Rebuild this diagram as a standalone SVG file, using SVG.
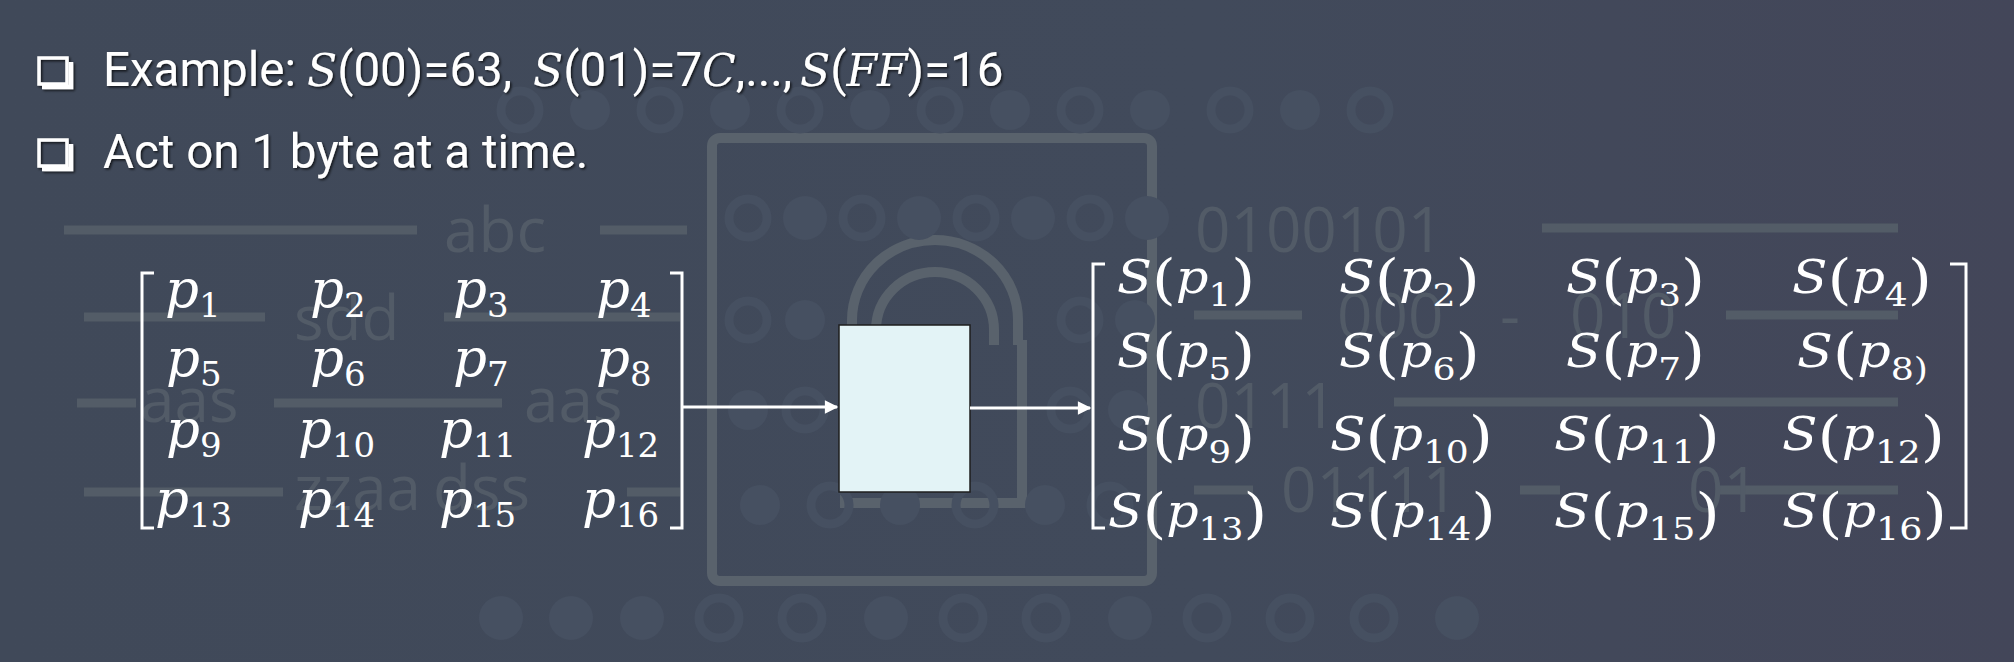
<svg xmlns="http://www.w3.org/2000/svg" width="2014" height="662" viewBox="0 0 2014 662">
<defs>
  <linearGradient id="bg" x1="0" y1="0" x2="1" y2="0">
    <stop offset="0" stop-color="#404959"/>
    <stop offset="0.6" stop-color="#414a5b"/>
    <stop offset="1" stop-color="#434659"/>
  </linearGradient>
  <filter id="sh" x="-5%" y="-20%" width="110%" height="140%">
    <feDropShadow dx="1.5" dy="1.5" stdDeviation="1" flood-color="#000" flood-opacity="0.7"/>
  </filter>
  <marker id="ah" viewBox="0 0 10 10" refX="9" refY="5" markerWidth="5" markerHeight="4.5" orient="auto" markerUnits="strokeWidth">
    <path d="M0,0 L10,5 L0,10 z" fill="#ffffff"/>
  </marker>
  <style>
    .bgbar { stroke: #535c67; stroke-width: 9; stroke-linecap: butt; }
    .bgtxt { font-family: "Open Sans", "DejaVu Sans", sans-serif; font-size: 62px; fill: #525b67; }
    .ring { fill: none; stroke: #465061; stroke-width: 9; }
    .dot { fill: #465061; }
    .lock { fill: none; stroke: #59626c; stroke-width: 10; }
    .t { font-family: Roboto, "Liberation Sans", sans-serif; font-size: 47.5px; fill: #ffffff; }
    .m { font-family: "DejaVu Serif", "Liberation Serif", serif; font-style: italic; font-size: 44px; }
    .mx { font-family: "DejaVu Serif", "Liberation Serif", serif; font-style: italic; font-size: 53px; fill: #ffffff; }
    .sx { font-family: "DejaVu Serif", "Liberation Serif", serif; font-style: italic; font-size: 46px; fill: #ffffff; }
    .par { font-style: normal; font-size: 55px; }
    .sub { font-style: normal; font-size: 34px; }
    .ssub { font-style: normal; font-size: 32px; }
    .br { fill: none; stroke: #ffffff; stroke-width: 3; }
    .conn { stroke: #ffffff; stroke-width: 3; fill: none; }
    .cb { fill: none; stroke: #ffffff; stroke-width: 3.5; }
    .cbs { fill: none; stroke: #ffffff; stroke-width: 4.5; }
  </style>
</defs>

<rect x="0" y="0" width="2014" height="662" fill="url(#bg)"/>

<!-- faint background decoration -->
<g id="background-decoration">
  <rect class="lock" x="712" y="138" width="440" height="443" rx="8"/>
  <path class="lock" d="M852,345 L852,320 A83,80 0 0 1 1018,320 L1018,345"/>
  <path class="lock" d="M876,345 L876,330 A59,58 0 0 1 994,330 L994,345"/>
  <path class="lock" d="M845,340 L845,503 L1022,503 L1022,340"/>
  <g>
    <circle class="ring" cx="748" cy="218" r="19"/>
    <circle class="dot" cx="805" cy="218" r="22"/>
    <circle class="ring" cx="862" cy="218" r="19"/>
    <circle class="dot" cx="919" cy="218" r="22"/>
    <circle class="ring" cx="976" cy="218" r="19"/>
    <circle class="dot" cx="1033" cy="218" r="22"/>
    <circle class="ring" cx="1090" cy="218" r="19"/>
    <circle class="dot" cx="1147" cy="218" r="22"/>
    <circle class="ring" cx="520" cy="110" r="19"/>
    <circle class="dot" cx="590" cy="110" r="20"/>
    <circle class="ring" cx="660" cy="110" r="19"/>
    <circle class="dot" cx="730" cy="110" r="20"/>
    <circle class="ring" cx="800" cy="110" r="19"/>
    <circle class="dot" cx="870" cy="110" r="20"/>
    <circle class="ring" cx="940" cy="110" r="19"/>
    <circle class="dot" cx="1010" cy="110" r="20"/>
    <circle class="ring" cx="1080" cy="110" r="19"/>
    <circle class="dot" cx="1150" cy="110" r="20"/>
    <circle class="ring" cx="1230" cy="110" r="19"/>
    <circle class="dot" cx="1300" cy="110" r="20"/>
    <circle class="ring" cx="1370" cy="110" r="19"/>
    <circle class="ring" cx="748" cy="320" r="19"/>
    <circle class="dot" cx="805" cy="320" r="20"/>
    <circle class="ring" cx="1080" cy="320" r="19"/>
    <circle class="dot" cx="1135" cy="320" r="20"/>
    <circle class="dot" cx="748" cy="410" r="20"/>
    <circle class="ring" cx="805" cy="410" r="19"/>
    <circle class="ring" cx="1070" cy="410" r="19"/>
    <circle class="dot" cx="1128" cy="410" r="20"/>
    <circle class="dot" cx="760" cy="505" r="20"/>
    <circle class="ring" cx="830" cy="505" r="19"/>
    <circle class="dot" cx="900" cy="505" r="20"/>
    <circle class="ring" cx="975" cy="505" r="19"/>
    <circle class="dot" cx="1045" cy="505" r="20"/>
    <circle class="ring" cx="1110" cy="505" r="19"/>
    <circle class="dot" cx="501" cy="618" r="22"/>
    <circle class="dot" cx="571" cy="618" r="22"/>
    <circle class="dot" cx="642" cy="618" r="22"/>
    <circle class="ring" cx="719" cy="618" r="20"/>
    <circle class="ring" cx="802" cy="618" r="20"/>
    <circle class="dot" cx="886" cy="618" r="22"/>
    <circle class="ring" cx="963" cy="618" r="20"/>
    <circle class="ring" cx="1046" cy="618" r="20"/>
    <circle class="dot" cx="1130" cy="618" r="22"/>
    <circle class="ring" cx="1207" cy="618" r="20"/>
    <circle class="ring" cx="1290" cy="618" r="20"/>
    <circle class="ring" cx="1374" cy="618" r="20"/>
    <circle class="dot" cx="1457" cy="618" r="22"/>
  </g>
  <line class="bgbar" x1="64" y1="230" x2="417" y2="230"/>
  <line class="bgbar" x1="600" y1="230" x2="687" y2="230"/>
  <line class="bgbar" x1="84" y1="317" x2="265" y2="317"/>
  <line class="bgbar" x1="444" y1="317" x2="680" y2="317"/>
  <line class="bgbar" x1="77" y1="403" x2="136" y2="403"/>
  <line class="bgbar" x1="274" y1="403" x2="502" y2="403"/>
  <line class="bgbar" x1="84" y1="492" x2="283" y2="492"/>
  <line class="bgbar" x1="627" y1="492" x2="680" y2="492"/>
  <line class="bgbar" x1="1542" y1="228" x2="1898" y2="228"/>
  <line class="bgbar" x1="1194" y1="315" x2="1302" y2="315"/>
  <line class="bgbar" x1="1726" y1="315" x2="1898" y2="315"/>
  <line class="bgbar" x1="1394" y1="402" x2="1898" y2="402"/>
  <line class="bgbar" x1="1194" y1="490" x2="1253" y2="490"/>
  <line class="bgbar" x1="1520" y1="490" x2="1560" y2="490"/>
  <line class="bgbar" x1="1720" y1="490" x2="1898" y2="490"/>
  <text class="bgtxt" x="444" y="252">abc</text>
  <text class="bgtxt" x="294" y="340">sdd</text>
  <text class="bgtxt" x="140" y="422">aas</text>
  <text class="bgtxt" x="524" y="422">aas</text>
  <text class="bgtxt" x="294" y="510">zzaa</text>
  <text class="bgtxt" x="433" y="510">dss</text>
  <text class="bgtxt" x="1195" y="252">0100101</text>
  <text class="bgtxt" x="1337" y="338">000</text>
  <text class="bgtxt" x="1500" y="338">-</text>
  <text class="bgtxt" x="1570" y="338">010</text>
  <text class="bgtxt" x="1195" y="428">0111</text>
  <text class="bgtxt" x="1281" y="512">01111</text>
  <text class="bgtxt" x="1688" y="512">01</text>
</g>

<!-- bullets -->
<g id="bullet-1" filter="url(#sh)">
  <rect class="cb" x="39" y="58" width="28" height="26"/>
  <path class="cbs" d="M42,87 L71,87 L71,62"/>
  <text class="t" x="103" y="86">Example: <tspan class="m" x="307">S</tspan>(00)=63,<tspan class="m" x="533">S</tspan>(01)=7<tspan class="m">C</tspan>,...,<tspan class="m" x="800">S</tspan>(<tspan class="m">FF</tspan>)=16</text>
</g>
<g id="bullet-2" filter="url(#sh)">
  <rect class="cb" x="39" y="140" width="28" height="26"/>
  <path class="cbs" d="M42,169 L71,169 L71,144"/>
  <text class="t" x="103" y="168">Act on 1 byte at a time.</text>
</g>

<!-- input state matrix -->
<g id="input-matrix">
  <path class="br" d="M154,273 L142,273 L142,528 L154,528"/>
  <path class="br" d="M670,273 L682,273 L682,528 L670,528"/>
  <text class="mx" x="165" y="307">p<tspan class="sub" dy="10">1</tspan></text>
  <text class="mx" x="310" y="307">p<tspan class="sub" dy="10">2</tspan></text>
  <text class="mx" x="453" y="307">p<tspan class="sub" dy="10">3</tspan></text>
  <text class="mx" x="596" y="307">p<tspan class="sub" dy="10">4</tspan></text>
  <text class="mx" x="166" y="376">p<tspan class="sub" dy="10">5</tspan></text>
  <text class="mx" x="310" y="376">p<tspan class="sub" dy="10">6</tspan></text>
  <text class="mx" x="453" y="376">p<tspan class="sub" dy="10">7</tspan></text>
  <text class="mx" x="596" y="376">p<tspan class="sub" dy="10">8</tspan></text>
  <text class="mx" x="166" y="447">p<tspan class="sub" dy="10">9</tspan></text>
  <text class="mx" x="298" y="447">p<tspan class="sub" dy="10">10</tspan></text>
  <text class="mx" x="439" y="447">p<tspan class="sub" dy="10">11</tspan></text>
  <text class="mx" x="582" y="447">p<tspan class="sub" dy="10">12</tspan></text>
  <text class="mx" x="155" y="517">p<tspan class="sub" dy="10">13</tspan></text>
  <text class="mx" x="298" y="517">p<tspan class="sub" dy="10">14</tspan></text>
  <text class="mx" x="439" y="517">p<tspan class="sub" dy="10">15</tspan></text>
  <text class="mx" x="582" y="517">p<tspan class="sub" dy="10">16</tspan></text>
</g>

<!-- S-box -->
<g id="sbox">
  <rect x="839" y="325" width="131" height="167" fill="#e3f3f6" stroke="#1e1e1e" stroke-width="1.5"/>
</g>

<!-- output matrix -->
<g id="output-matrix">
  <path class="br" d="M1105,264 L1093,264 L1093,528 L1105,528"/>
  <path class="br" d="M1950,264 L1966,264 L1966,528 L1950,528"/>
  <text class="sx" x="1117" y="293" textLength="138" lengthAdjust="spacingAndGlyphs">S<tspan class="par" dy="5">(</tspan><tspan dy="-5">p</tspan><tspan class="ssub" dy="13">1</tspan><tspan class="par" dy="-8">)</tspan></text>
  <text class="sx" x="1339" y="293" textLength="141" lengthAdjust="spacingAndGlyphs">S<tspan class="par" dy="5">(</tspan><tspan dy="-5">p</tspan><tspan class="ssub" dy="13">2</tspan><tspan class="par" dy="-8">)</tspan></text>
  <text class="sx" x="1566" y="293" textLength="139" lengthAdjust="spacingAndGlyphs">S<tspan class="par" dy="5">(</tspan><tspan dy="-5">p</tspan><tspan class="ssub" dy="13">3</tspan><tspan class="par" dy="-8">)</tspan></text>
  <text class="sx" x="1792" y="293" textLength="140" lengthAdjust="spacingAndGlyphs">S<tspan class="par" dy="5">(</tspan><tspan dy="-5">p</tspan><tspan class="ssub" dy="13">4</tspan><tspan class="par" dy="-8">)</tspan></text>
  <text class="sx" x="1117" y="367" textLength="138" lengthAdjust="spacingAndGlyphs">S<tspan class="par" dy="5">(</tspan><tspan dy="-5">p</tspan><tspan class="ssub" dy="13">5</tspan><tspan class="par" dy="-8">)</tspan></text>
  <text class="sx" x="1339" y="367" textLength="141" lengthAdjust="spacingAndGlyphs">S<tspan class="par" dy="5">(</tspan><tspan dy="-5">p</tspan><tspan class="ssub" dy="13">6</tspan><tspan class="par" dy="-8">)</tspan></text>
  <text class="sx" x="1566" y="367" textLength="139" lengthAdjust="spacingAndGlyphs">S<tspan class="par" dy="5">(</tspan><tspan dy="-5">p</tspan><tspan class="ssub" dy="13">7</tspan><tspan class="par" dy="-8">)</tspan></text>
  <text class="sx" x="1797" y="367" textLength="131" lengthAdjust="spacingAndGlyphs">S<tspan class="par" dy="5">(</tspan><tspan dy="-5">p</tspan><tspan class="ssub" dy="13">8)</tspan></text>
  <text class="sx" x="1117" y="450" textLength="138" lengthAdjust="spacingAndGlyphs">S<tspan class="par" dy="5">(</tspan><tspan dy="-5">p</tspan><tspan class="ssub" dy="13">9</tspan><tspan class="par" dy="-8">)</tspan></text>
  <text class="sx" x="1330" y="450" textLength="163" lengthAdjust="spacingAndGlyphs">S<tspan class="par" dy="5">(</tspan><tspan dy="-5">p</tspan><tspan class="ssub" dy="13">10</tspan><tspan class="par" dy="-8">)</tspan></text>
  <text class="sx" x="1554" y="450" textLength="166" lengthAdjust="spacingAndGlyphs">S<tspan class="par" dy="5">(</tspan><tspan dy="-5">p</tspan><tspan class="ssub" dy="13">11</tspan><tspan class="par" dy="-8">)</tspan></text>
  <text class="sx" x="1782" y="450" textLength="163" lengthAdjust="spacingAndGlyphs">S<tspan class="par" dy="5">(</tspan><tspan dy="-5">p</tspan><tspan class="ssub" dy="13">12</tspan><tspan class="par" dy="-8">)</tspan></text>
  <text class="sx" x="1108" y="527" textLength="159" lengthAdjust="spacingAndGlyphs">S<tspan class="par" dy="5">(</tspan><tspan dy="-5">p</tspan><tspan class="ssub" dy="13">13</tspan><tspan class="par" dy="-8">)</tspan></text>
  <text class="sx" x="1330" y="527" textLength="166" lengthAdjust="spacingAndGlyphs">S<tspan class="par" dy="5">(</tspan><tspan dy="-5">p</tspan><tspan class="ssub" dy="13">14</tspan><tspan class="par" dy="-8">)</tspan></text>
  <text class="sx" x="1554" y="527" textLength="166" lengthAdjust="spacingAndGlyphs">S<tspan class="par" dy="5">(</tspan><tspan dy="-5">p</tspan><tspan class="ssub" dy="13">15</tspan><tspan class="par" dy="-8">)</tspan></text>
  <text class="sx" x="1782" y="527" textLength="165" lengthAdjust="spacingAndGlyphs">S<tspan class="par" dy="5">(</tspan><tspan dy="-5">p</tspan><tspan class="ssub" dy="13">16</tspan><tspan class="par" dy="-8">)</tspan></text>
</g>

<!-- connectors -->
<g id="connectors">
  <line class="conn" x1="683" y1="407" x2="837" y2="407" marker-end="url(#ah)"/>
  <line class="conn" x1="970" y1="408" x2="1090" y2="408" marker-end="url(#ah)"/>
</g>
</svg>
